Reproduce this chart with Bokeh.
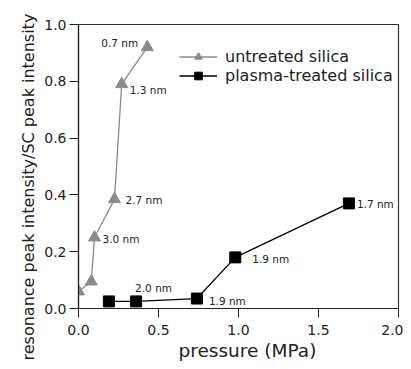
from bokeh.plotting import figure
from bokeh.models import Legend, LegendItem, FixedTicker, NumeralTickFormatter, ColumnDataSource, LabelSet, Title
from bokeh.core.properties import value
from bokeh.embed import file_html
from bokeh.resources import INLINE

# untreated silica
untreated_p = [0.00, 0.08, 0.10, 0.225, 0.27, 0.43]
untreated_i = [0.06, 0.095, 0.25, 0.385, 0.79, 0.92]
untreated_lbl = ["", "", "3.0 nm", "2.7 nm", "1.3 nm", "0.7 nm"]

# plasma-treated silica
plasma_p = [0.19, 0.36, 0.74, 0.98, 1.69]
plasma_i = [0.025, 0.025, 0.035, 0.18, 0.37]
plasma_lbl = ["", "2.0 nm", "1.9 nm", "1.9 nm", "1.7 nm"]

x_ticks = [0.0, 0.5, 1.0, 1.5, 2.0]
y_ticks = [0.0, 0.2, 0.4, 0.6, 0.8, 1.0]
x_title = "pressure (MPa)"
y_title = "resonance peak intensity/SC peak intensity"

FONT = "DejaVu Sans"
GRAY = "#8a8a8a"
TXT = "#222222"

p = figure(width=403, height=361, x_range=(0, 2.0), y_range=(0, 1.0),
           output_backend="svg", toolbar_location=None,
           min_border_left=78, min_border_right=5, min_border_top=24, min_border_bottom=53)
p.grid.visible = False
p.outline_line_color = "#333333"
p.outline_line_width = 1.2
p.background_fill_color = "white"
p.border_fill_color = "white"

for ax in (p.xaxis[0], p.yaxis[0]):
    ax.major_tick_out = 9
    ax.major_tick_in = 0
    ax.minor_tick_out = 0
    ax.minor_tick_in = 0
    ax.axis_line_color = TXT
    ax.major_tick_line_color = TXT
    ax.axis_line_width = 1.2
    ax.major_label_text_font = FONT
    ax.major_label_text_font_size = "14px"
    ax.major_label_text_color = TXT
    ax.formatter = NumeralTickFormatter(format="0.0")

p.xaxis.ticker = FixedTicker(ticks=x_ticks)
p.yaxis.ticker = FixedTicker(ticks=y_ticks)
p.xaxis.major_label_standoff = 7
p.yaxis.major_label_standoff = 3

# axis titles placed as side-panel titles (offset like the reference)
p.add_layout(Title(text=x_title, align="left", offset=100, standoff=0,
                   text_font=FONT, text_font_size="18.5px", text_color=TXT,
                   text_font_style="normal"), "below")
p.add_layout(Title(text=y_title, align="left", offset=-52, standoff=8,
                   text_font=FONT, text_font_size="16px", text_color=TXT,
                   text_font_style="normal"), "left")

su = ColumnDataSource(dict(x=untreated_p, y=untreated_i, t=untreated_lbl))
sp = ColumnDataSource(dict(x=plasma_p, y=plasma_i, t=plasma_lbl))

lu = p.line("x", "y", source=su, line_color=GRAY, line_width=1.3)
mu = p.scatter("x", "y", source=su, marker="triangle", size=12,
               fill_color=GRAY, line_color=GRAY)
lp = p.line("x", "y", source=sp, line_color="black", line_width=1.3)
mp = p.scatter("x", "y", source=sp, marker="square", size=11,
               fill_color="black", line_color="black")

su.data["xo"] = [0, 0, 8, 11, 8, -46]
su.data["yo"] = [0, 0, -1, -1, -6, 4]
sp.data["xo"] = [0, -1, 12, 17, 8]
sp.data["yo"] = [0, 13, -2, -2, -1]

for src in (su, sp):
    p.add_layout(LabelSet(x="x", y="y", text="t", source=src, x_offset="xo", y_offset="yo",
                          text_font=value(FONT), text_font_size="10.5px", text_color=TXT,
                          text_baseline="middle"))

legend = Legend(items=[LegendItem(label="untreated silica", renderers=[lu, mu]),
                       LegendItem(label="plasma-treated silica", renderers=[lp, mp])],
                location=(101, 223), padding=0, margin=0, spacing=0,
                glyph_width=38, glyph_height=19, label_height=19, label_standoff=8,
                label_text_font=FONT, label_text_font_size="16px", label_text_color=TXT,
                border_line_color=None, background_fill_alpha=0)
p.add_layout(legend)

open("out.html", "w").write(file_html(p, INLINE))
